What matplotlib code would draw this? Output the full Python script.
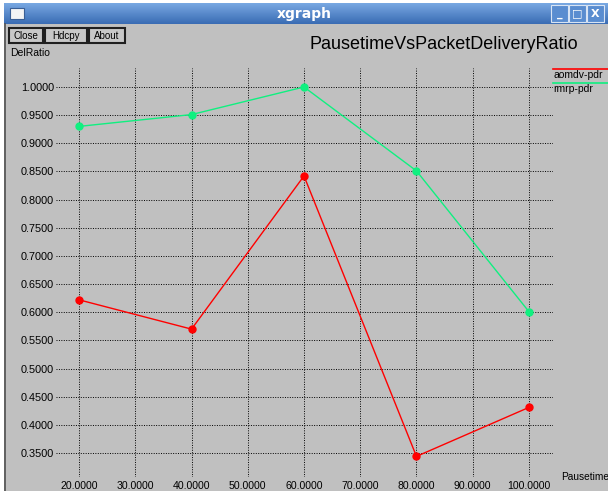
import matplotlib
matplotlib.use("Agg")
import matplotlib.pyplot as plt
import numpy as np
from matplotlib.colors import LinearSegmentedColormap
from matplotlib.patches import Rectangle

# pause time (s) vs packet delivery ratio
pausetime = [20, 40, 60, 80, 100]
aomdv_pdr = [0.622, 0.570, 0.842, 0.344, 0.431]
rmrp_pdr = [0.930, 0.951, 1.000, 0.851, 0.601]
series_names = ["aomdv-pdr", "rmrp-pdr"]
series_colors = ["#ff0000", "#10f080"]

x_ticks = [20, 30, 40, 50, 60, 70, 80, 90, 100]
y_ticks = [0.35, 0.40, 0.45, 0.50, 0.55, 0.60, 0.65, 0.70, 0.75, 0.80, 0.85, 0.90, 0.95, 1.00]

W, H = 608, 491
GRAY = "#c0c0c0"
FONT = "Liberation Sans"

fig = plt.figure(figsize=(W / 100, H / 100), dpi=100)
fig.patch.set_facecolor("white")

# window frame drawn in pixel coordinates
win = fig.add_axes([0, 0, 1, 1])
win.axis("off")
win.add_patch(Rectangle((4, 24), W - 4, H - 24, facecolor=GRAY, edgecolor="none"))
win.plot([5, 5], [24, H], color="#505050", lw=1.2)

tb_cmap = LinearSegmentedColormap.from_list("titlebar", ["#78a8e2", "#3a6cb4"])
grad = np.linspace(0, 1, 32).reshape(-1, 1)
win.imshow(grad, extent=(4, W, 24, 3), cmap=tb_cmap, aspect="auto")
win.text(W / 2, 13.5, "xgraph", color="white", fontweight="bold", fontsize=10,
         ha="center", va="center", family="DejaVu Sans")
win.add_patch(Rectangle((10, 8), 14, 11, facecolor="#f4f4f4", edgecolor="#3a5f95", lw=0.8))
for bx, sym in zip([551, 569, 587], ["_", "\u25a1", "X"]):
    win.add_patch(Rectangle((bx, 5), 17, 17, facecolor="#5a8dd0", edgecolor="#d8e4f4", lw=0.8))
    win.text(bx + 8.5, 13.5, sym, color="white", fontweight="bold", fontsize=8,
             ha="center", va="center", family="DejaVu Sans")

for label, x0, x1 in [("Close", 9, 43), ("Hdcpy", 45, 87), ("About", 89, 125)]:
    win.add_patch(Rectangle((x0, 28), x1 - x0, 15, facecolor="#c8c8c8", edgecolor="#202020", lw=1.5))
    win.text((x0 + x1) / 2, 35.5, label, fontsize=7, ha="center", va="center", family=FONT)

win.text(10, 53, "DelRatio", fontsize=7.5, ha="left", va="center", family=FONT)
win.text(444, 44, "PausetimeVsPacketDeliveryRatio", fontsize=13, ha="center", va="center", family=FONT)
win.text(561, 477, "Pausetime", fontsize=7.3, ha="left", va="center", family=FONT)

# legend in the right margin
for i, (name, color) in enumerate(zip(series_names, series_colors)):
    ly = 69 + 14 * i
    win.plot([553, W], [ly, ly], color=color, lw=1.2)
    win.text(553, ly + 6, name, fontsize=7.5, ha="left", va="center", family=FONT)

win.set_xlim(0, W)
win.set_ylim(H, 0)

# plot area
ax = fig.add_axes([56 / W, 1 - 477 / H, (553 - 56) / W, (477 - 68) / H])
ax.set_facecolor("none")
for s in ax.spines.values():
    s.set_visible(False)

ax.plot(pausetime, aomdv_pdr, color=series_colors[0], lw=1, marker="o", ms=5, label=series_names[0])
ax.plot(pausetime, rmrp_pdr, color=series_colors[1], lw=1, marker="o", ms=5, label=series_names[1])

ax.set_xlim(15.9, 104.28)
ax.set_ylim(0.3074, 1.0337)
ax.set_xticks(x_ticks)
ax.set_xticklabels([f"{v:.4f}" for v in x_ticks], fontsize=7.6, family=FONT)
ax.set_yticks(y_ticks)
ax.set_yticklabels([f"{v:.4f}" for v in y_ticks], fontsize=7.8, family=FONT)
ax.tick_params(length=0, pad=1.5)
ax.tick_params(axis="x", pad=3)
ax.grid(True, color="black", linestyle=(0, (1, 1.5)), linewidth=0.7)
ax.set_axisbelow(True)

fig.savefig("out.png", dpi=100)
